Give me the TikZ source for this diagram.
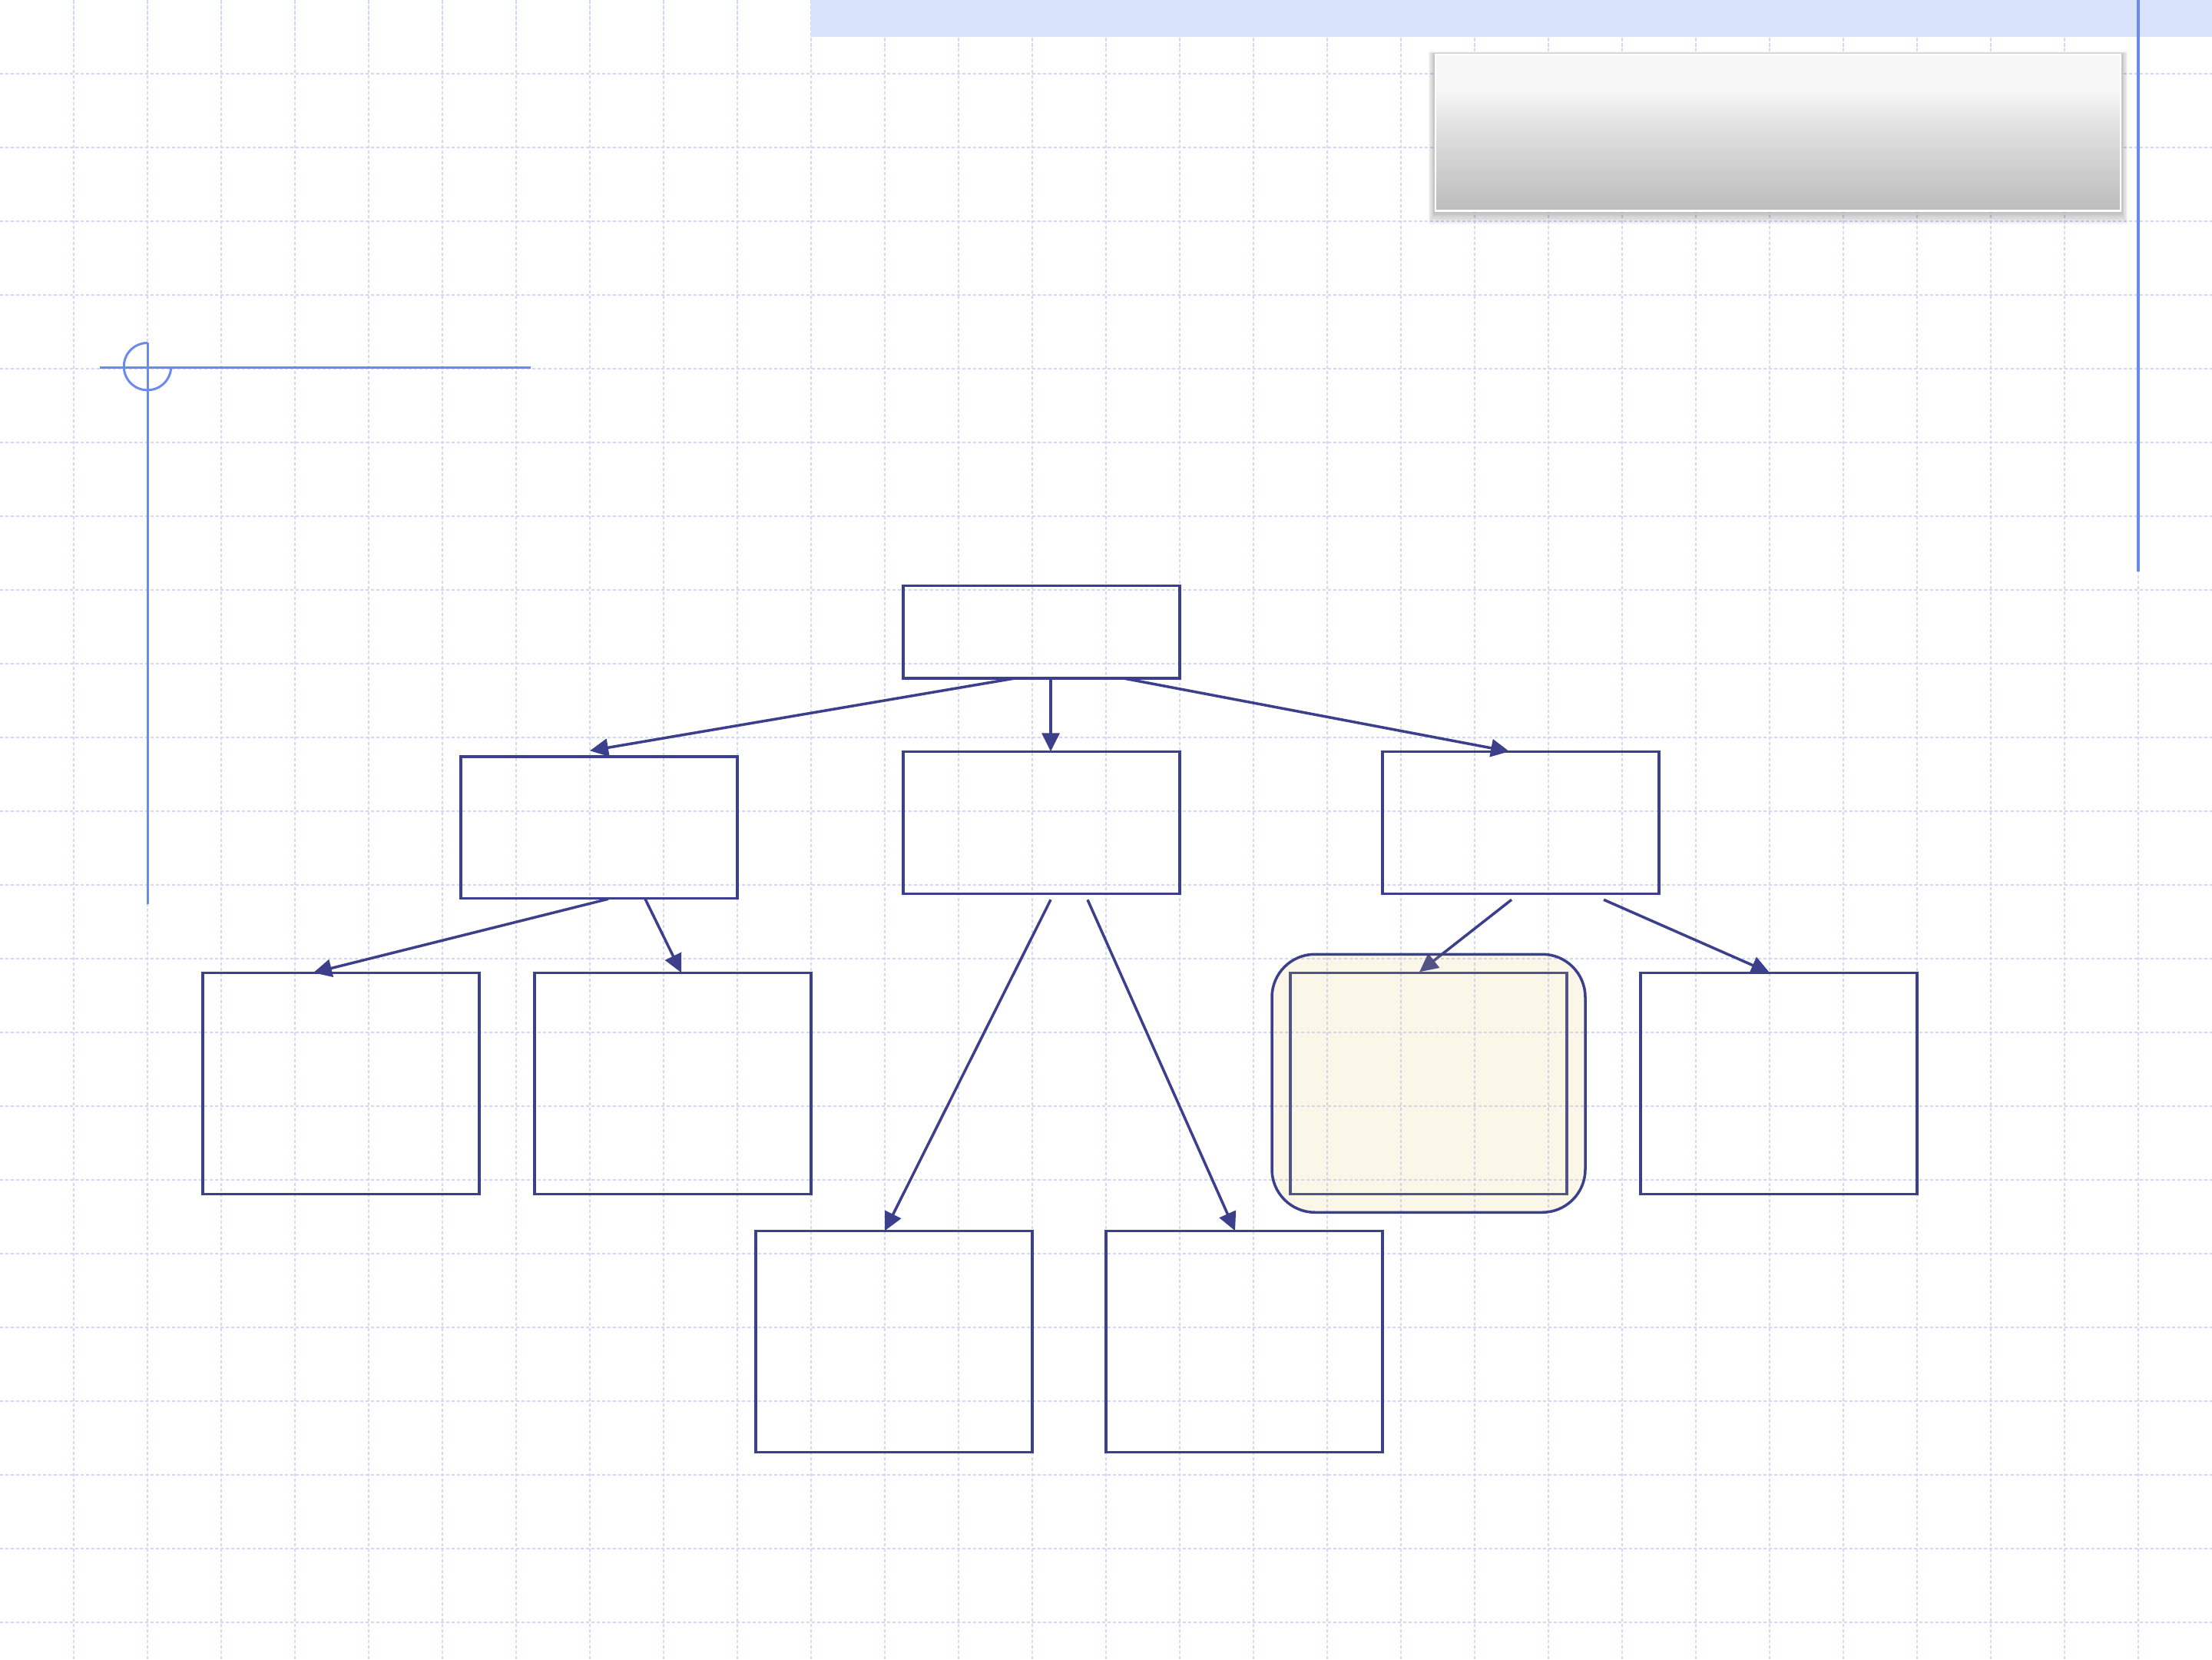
\documentclass[tikz,border=0pt]{standalone}
\usetikzlibrary{arrows.meta,calc}
\definecolor{navy}{RGB}{60,64,140}
\definecolor{gridc}{RGB}{206,216,251}
\definecolor{crossc}{RGB}{108,138,238}
\definecolor{bandc}{RGB}{218,227,252}
\definecolor{creamc}{RGB}{222,195,102}
\definecolor{gA}{RGB}{247,247,247}
\definecolor{gB}{RGB}{222,222,222}
\definecolor{gC}{RGB}{188,188,188}
\pgfdeclareverticalshading{gboxshade}{100bp}{color(0bp)=(gC); color(25bp)=(gC); color(50bp)=(gB); color(64bp)=(gA); color(75bp)=(gA); color(100bp)=(gA)}
\tikzset{
  gridline/.style={draw=gridc, line width=0.02cm, dash pattern=on 0.045cm off 0.025cm},
  box/.style={draw=navy, line width=1pt, inner sep=0pt, outer sep=0pt, rectangle, anchor=north west, minimum width=3.6cm},
  conn/.style={draw=navy, line width=1pt, -{Triangle[length=0.24cm,width=0.23cm]}},
  crossline/.style={draw=crossc, line width=0.03cm},
}
\begin{document}
\begin{tikzpicture}[x=0.96cm, y=-0.96cm]
\useasboundingbox (0,0) rectangle (30,22.5);
\fill[white] (0,0) rectangle (30,22.5);
% grid
\foreach \i in {1,...,29} \draw[gridline] (\i,0) -- (\i,22.5);
\foreach \j in {1,...,22} \draw[gridline] (0,\j) -- (30,\j);
% top band
\fill[bandc] (11,0) rectangle (30,0.5);
% gray title box with shadow
\foreach \k in {1,...,7}
  \fill[black, opacity=0.04] ($(19.47,0.74)+(-0.014*\k,-0.006*\k)$) rectangle ($(28.76,2.86)+(0.014*\k,0.026*\k)$);
\node[rectangle, draw=white, line width=0.025cm, shading=gboxshade, inner sep=0pt, outer sep=0pt, anchor=north west, minimum width=8.918cm, minimum height=2.035cm] (title) at (19.47,0.74) {};
% right vertical line
\coordinate (rtop) at (29,0);
\coordinate (rbot) at (29,7.75);
\draw[crossline, line width=0.032cm] (rtop) -- (rbot);
% crosshair
\coordinate (cc) at (2,4.97);
\coordinate (hl) at (1.35,4.98);
\coordinate (hr) at (7.2,4.98);
\coordinate (vt) at (2,4.65);
\coordinate (vb) at (2,12.26);
\draw[crossline] (hl) -- (hr);
\draw[crossline] (vt) -- (vb);
\draw[crossline] ([yshift=0.3072cm]cc) arc[start angle=90, end angle=360, radius=0.3072cm];
% boxes
\node[box, minimum height=1.2096cm] (root) at (12.25,7.94) {};
\node[box, minimum height=1.843cm] (L) at (6.25,10.26) {};
\node[box, minimum height=1.853cm] (M) at (12.25,10.19) {};
\node[box, minimum height=1.853cm] (R) at (18.75,10.19) {};
\node[box, minimum height=2.88cm] (B1) at (2.75,13.19) {};
\node[box, minimum height=2.88cm] (B2) at (7.25,13.19) {};
\node[box, minimum height=2.88cm] (B3) at (17.5,13.19) {};
\node[box, minimum height=2.88cm] (B4) at (22.25,13.19) {};
\node[box, minimum height=2.88cm] (B5) at (10.25,16.69) {};
\node[box, minimum height=2.88cm] (B6) at (15.0,16.69) {};
% connectors
\draw[conn] ($(root.south west)+(1.5,0)$) -- ($(L.north west)+(1.75,-0.08)$);
\draw[conn] ($(root.south west)+(2.0,0)$) -- ($(M.north west)+(2.0,0)$);
\draw[conn] ($(root.south west)+(3.0,0)$) -- ($(R.north west)+(1.72,0)$);
\draw[conn] ($(L.south west)+(2.0,0.01)$) -- ($(B1.north west)+(1.5,0)$);
\draw[conn] ($(L.south west)+(2.5,0.01)$) -- ($(B2.north west)+(1.99,0)$);
\draw[conn] ($(M.south west)+(2.0,0.08)$) -- ($(B5.north west)+(1.75,0)$);
\draw[conn] ($(M.south west)+(2.5,0.08)$) -- ($(B6.north west)+(1.75,0)$);
\draw[conn] ($(R.south west)+(1.75,0.08)$) -- ($(B3.north west)+(1.75,-0.01)$);
\draw[conn] ($(R.south west)+(3.0,0.08)$) -- ($(B4.north west)+(1.75,0)$);
% highlight frame
\node[rectangle, draw=navy, line width=1pt, rounded corners=0.56cm, fill=creamc, fill opacity=0.15, draw opacity=1, inner sep=0pt, outer sep=0pt, anchor=north west, minimum width=4.08cm, minimum height=3.36cm] (hl3) at (17.25,12.94) {};
\end{tikzpicture}
\end{document}
